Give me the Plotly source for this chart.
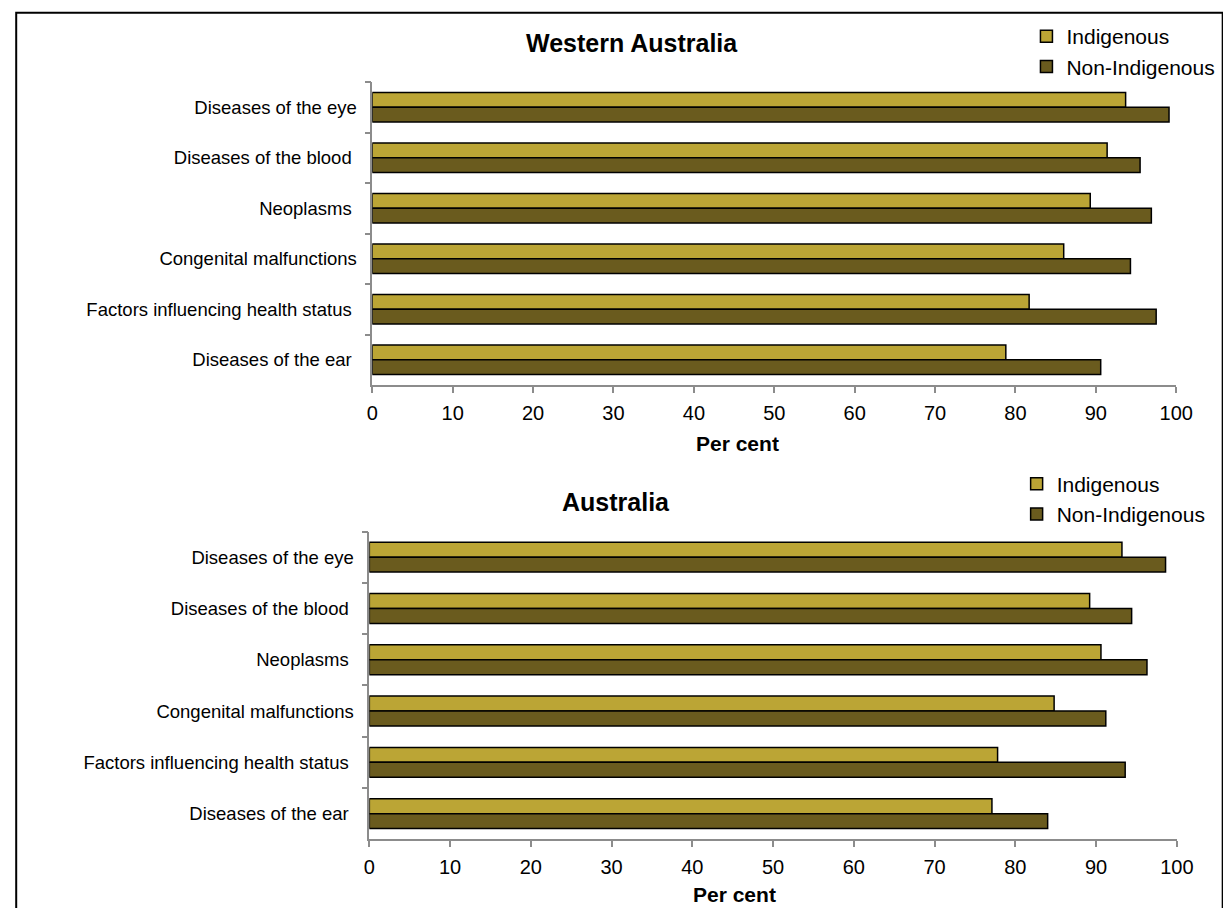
import plotly.graph_objects as go

W, H = 1223, 908

categories = [
    "Diseases of the eye",
    "Diseases of the blood\u00a0",
    "Neoplasms\u00a0",
    "Congenital malfunctions",
    "Factors influencing health status\u00a0",
    "Diseases of the ear\u00a0",
]
wa_indigenous = [93.7, 91.4, 89.3, 86.0, 81.7, 78.8]
wa_non_indigenous = [99.1, 95.5, 96.9, 94.3, 97.5, 90.6]
aus_indigenous = [93.2, 89.2, 90.6, 84.8, 77.8, 77.1]
aus_non_indigenous = [98.6, 94.4, 96.3, 91.2, 93.6, 84.0]
x_ticks = [0, 10, 20, 30, 40, 50, 60, 70, 80, 90, 100]
series_names = ["Indigenous", "Non-Indigenous"]
panel_titles = ["Western Australia", "Australia"]
axis_title = "Per cent"

C_IND = "#BBA535"
C_NON = "#6A5B1E"
FONT = "Liberation Sans, Arial, sans-serif"
AXIS_GREY = "#8C8C8C"


def px(x):
    return x / W


def py(y):
    return 1 - y / H


fig = go.Figure()

panels = [
    (wa_indigenous, wa_non_indigenous, "x", "y", "legend"),
    (aus_indigenous, aus_non_indigenous, "x2", "y2", "legend2"),
]
for ind, non, xa, ya, lg in panels:
    for name, vals, col in [(series_names[0], ind, C_IND), (series_names[1], non, C_NON)]:
        fig.add_trace(go.Bar(
            name=name, x=vals, y=categories, orientation="h",
            xaxis=xa, yaxis=ya, legend=lg,
            marker=dict(color=col, line=dict(color="black", width=1.5)),
        ))

xcommon = dict(range=[0, 100], tickvals=x_ticks, showline=True, linecolor=AXIS_GREY,
               linewidth=1.5, ticks="outside", ticklen=6, tickcolor=AXIS_GREY, tickwidth=1.5,
               showgrid=False, zeroline=False, ticklabelstandoff=3,
               tickfont=dict(size=20, color="black", family=FONT))
ycommon = dict(type="category", autorange="reversed", showline=True, linecolor=AXIS_GREY,
               linewidth=1.5, ticks="outside", ticklen=6, tickcolor=AXIS_GREY, tickwidth=1.5,
               tickson="boundaries", showgrid=False, zeroline=False,
               tickfont=dict(size=18.5, color="black", family=FONT), ticklabelstandoff=10)

fig.update_layout(
    width=W, height=H,
    margin=dict(l=0, r=0, t=0, b=0),
    paper_bgcolor="white", plot_bgcolor="white",
    barmode="group", bargap=0.418, bargroupgap=0,
    font=dict(family=FONT, color="black"),
    xaxis=dict(domain=[px(373.3), px(1192.7)], anchor="y", **xcommon),
    yaxis=dict(domain=[py(385), py(82)], anchor="x", **ycommon),
    xaxis2=dict(domain=[px(370.3), px(1193.3)], anchor="y2", **xcommon),
    yaxis2=dict(domain=[py(839.3), py(531.5)], anchor="x2", **ycommon),
    legend=dict(x=px(1040), y=py(16), xanchor="left", yanchor="top",
                bgcolor="rgba(0,0,0,0)", font=dict(size=21, family=FONT), itemwidth=30),
    legend2=dict(x=px(1030), y=py(463.5), xanchor="left", yanchor="top",
                 bgcolor="rgba(0,0,0,0)", font=dict(size=21, family=FONT), itemwidth=30),
    showlegend=True,
)

annots = [
    (panel_titles[0], 637.5, 43, 25),
    (panel_titles[1], 621.7, 502, 25),
    (axis_title, 745.3, 443.5, 21),
    (axis_title, 742, 894.5, 21),
]
for text, x, y, size in annots:
    fig.add_annotation(text=f"<b>{text}</b>", x=px(x), y=py(y),
                       xref="paper", yref="paper", xanchor="center", yanchor="middle",
                       showarrow=False, font=dict(size=size, family=FONT, color="black"))

fig.add_shape(type="rect", xref="paper", yref="paper",
              x0=px(10.4), y0=py(930), x1=px(1240), y1=py(12.7),
              line=dict(color="black", width=2), fillcolor="rgba(0,0,0,0)", layer="above")

fig.write_html(
    "out.html",
    config={"displayModeBar": False},
    post_script="document.body.style.margin='0';document.body.style.overflow='hidden';",
)
